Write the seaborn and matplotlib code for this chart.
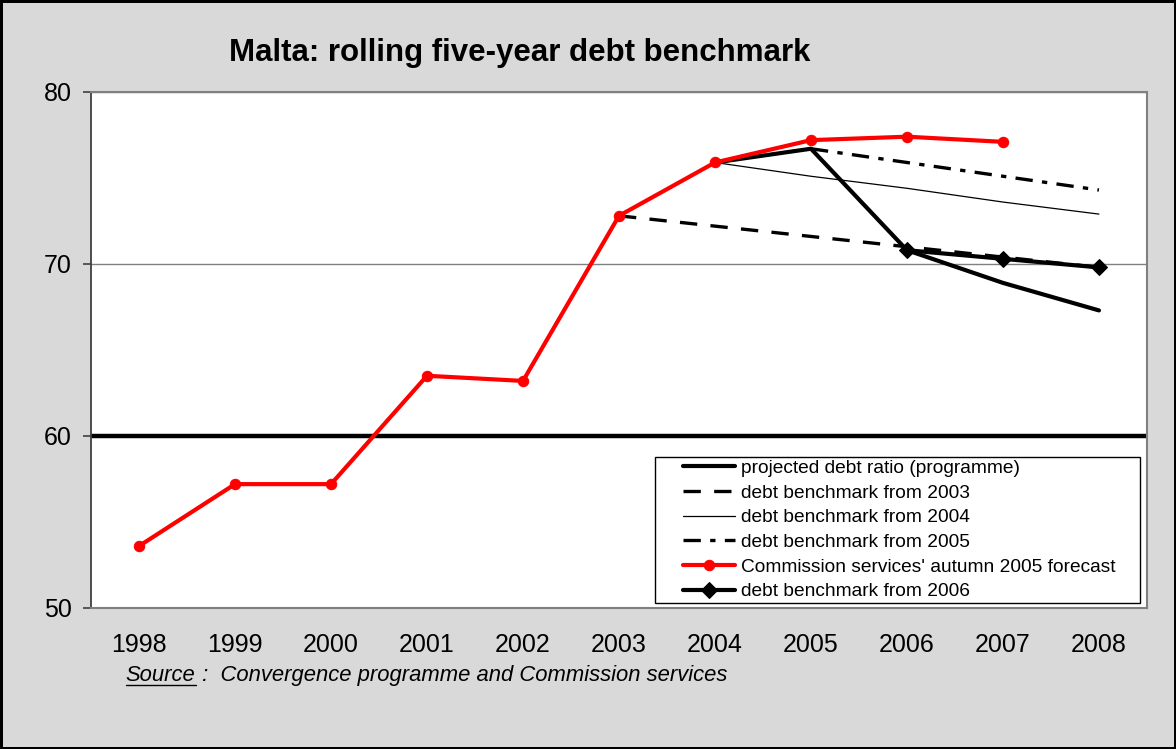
import matplotlib
matplotlib.use("Agg")
import matplotlib.pyplot as plt
from matplotlib.patches import Rectangle
from matplotlib.lines import Line2D
import seaborn as sns

# Debt ratio series (% of GDP)
years = [1998, 1999, 2000, 2001, 2002, 2003, 2004, 2005, 2006, 2007, 2008]

forecast_years = [1998, 1999, 2000, 2001, 2002, 2003, 2004, 2005, 2006, 2007]
forecast_vals = [53.6, 57.2, 57.2, 63.5, 63.2, 72.8, 75.9, 77.2, 77.4, 77.1]

programme_years = [2004, 2005, 2006, 2007, 2008]
programme_vals = [75.9, 76.7, 70.8, 68.9, 67.3]

bench03_years = [2003, 2004, 2005, 2006, 2007, 2008]
bench03_vals = [72.8, 72.2, 71.6, 71.0, 70.4, 69.8]

bench04_years = [2004, 2005, 2006, 2007, 2008]
bench04_vals = [75.9, 75.1, 74.4, 73.6, 72.9]

bench05_years = [2005, 2006, 2007, 2008]
bench05_vals = [76.7, 75.9, 75.1, 74.3]

bench06_years = [2006, 2007, 2008]
bench06_vals = [70.8, 70.3, 69.8]

reference_value = 60
y_ticks = [50, 60, 70, 80]

title = "Malta: rolling five-year debt benchmark"
labels = [
    "projected debt ratio (programme)",
    "debt benchmark from 2003",
    "debt benchmark from 2004",
    "debt benchmark from 2005",
    "Commission services' autumn 2005 forecast",
    "debt benchmark from 2006",
]

sns.set_style("white")
plt.rcParams["font.family"] = ["Liberation Sans", "DejaVu Sans"]
plt.rcParams["text.color"] = "black"
plt.rcParams["xtick.color"] = "black"
plt.rcParams["ytick.color"] = "black"

fig = plt.figure(figsize=(11.76, 7.49), dpi=100)
fig.patch.set_facecolor("#D9D9D9")
fig.patch.set_edgecolor("black")
fig.patch.set_linewidth(2.5)

ax = fig.add_axes([0.0774, 0.1883, 0.8979, 0.6889])
ax.set_facecolor("white")

ax.axhline(reference_value, color="black", lw=3.2, zorder=1.5)

sns.lineplot(x=programme_years, y=programme_vals, ax=ax, color="black",
             lw=3.0, label=labels[0], zorder=2)
sns.lineplot(x=bench03_years, y=bench03_vals, ax=ax, color="black",
             lw=2.4, linestyle=(0, (5.2, 4.0)), label=labels[1], zorder=2)
sns.lineplot(x=bench04_years, y=bench04_vals, ax=ax, color="black",
             lw=0.9, label=labels[2], zorder=2)
sns.lineplot(x=bench05_years, y=bench05_vals, ax=ax, color="black",
             lw=2.4, linestyle=(0, (5.2, 2.8, 1.6, 2.8)), label=labels[3], zorder=2)
sns.lineplot(x=forecast_years, y=forecast_vals, ax=ax, color="#FF0000",
             lw=3.0, marker="o", markersize=7.5, markeredgecolor="#FF0000",
             label=labels[4], zorder=3)
sns.lineplot(x=bench06_years, y=bench06_vals, ax=ax, color="black",
             lw=3.0, marker="D", markersize=8.5, markeredgecolor="black",
             label=labels[5], zorder=3)

ax.set_xlim(years[0] - 0.5, years[-1] + 0.5)
ax.set_ylim(50, 80)
ax.set_xticks(years)
ax.set_xticklabels([str(y) for y in years])
ax.set_yticks(y_ticks)
ax.set_xlabel("")
ax.set_ylabel("")
ax.tick_params(axis="x", length=0, pad=18, labelsize=18)
ax.tick_params(axis="y", length=6, width=1.2, color="#404040", pad=8,
               labelsize=18, direction="out", left=True)

ax.grid(axis="y", color="#808080", lw=1.0, zorder=0)
ax.set_axisbelow(True)
for side in ["top", "right", "bottom"]:
    ax.spines[side].set_color("#808080")
    ax.spines[side].set_linewidth(1.5)
ax.spines["left"].set_color("#404040")
ax.spines["left"].set_linewidth(1.3)

# Legend box
box_x, box_y, box_w, box_h = 0.534, 0.0097, 0.459, 0.283
ax.add_patch(Rectangle((box_x, box_y), box_w, box_h, transform=ax.transAxes,
                       facecolor="white", edgecolor="black", lw=1.0, zorder=4))
handles, _ = ax.get_legend_handles_labels()
leg = ax.legend(handles=handles, labels=labels, loc="center",
                bbox_to_anchor=(box_x + box_w / 2 + 0.002, box_y + box_h / 2),
                frameon=False, fontsize=13.8, handlelength=2.7,
                handletextpad=0.3, labelspacing=0.38, borderpad=0.2)
leg.set_zorder(5)

fig.text(0.442, 0.929, title, ha="center", va="center",
         fontsize=22.5, fontweight="bold")

# Source note with underlined lead word
src_y = 0.098
src1 = fig.text(0.107, src_y, "Source", ha="left", va="center",
                fontsize=15.8, style="italic")
fig.canvas.draw()
bb = src1.get_window_extent()
fig_w, fig_h = fig.bbox.width, fig.bbox.height
fig.add_artist(Line2D([bb.x0 / fig_w, bb.x1 / fig_w],
                      [(bb.y0 + 1) / fig_h, (bb.y0 + 1) / fig_h],
                      color="black", lw=1.0))
fig.text(bb.x1 / fig_w, src_y, " :  Convergence programme and Commission services",
         ha="left", va="center", fontsize=15.8, style="italic")

fig.savefig("out.png", dpi=100, facecolor=fig.get_facecolor(),
            edgecolor=fig.get_edgecolor())
